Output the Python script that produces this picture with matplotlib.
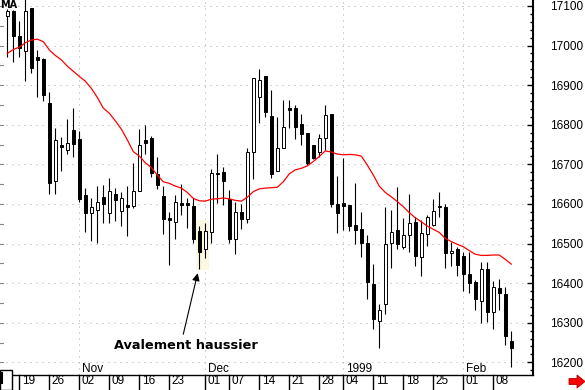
import matplotlib
matplotlib.use('Agg')
import matplotlib.pyplot as plt
import matplotlib.transforms as mtransforms
from matplotlib.patches import Rectangle, Polygon
from matplotlib.lines import Line2D
from matplotlib.ticker import MultipleLocator

# ---- data ----
opens = [17075, 17087, 17024, 16985, 17095, 16970, 16966, 16854, 16659, 16749,
         16737, 16787, 16764, 16622, 16578, 16585, 16617, 16576, 16625, 16581,
         16597, 16596, 16633, 16761, 16767, 16675, 16619, 16564, 16555, 16603,
         16602, 16595, 16532, 16485, 16528, 16679, 16680, 16613, 16511, 16580,
         16561, 16730, 16869, 16922, 16821, 16682, 16742, 16842, 16843, 16802,
         16779, 16749, 16730, 16767, 16826, 16600, 16603, 16597, 16546, 16536,
         16501, 16397, 16305, 16347, 16501, 16534, 16491, 16521, 16555, 16467,
         16523, 16547, 16591, 16592, 16475, 16487, 16469, 16423, 16403, 16356,
         16435, 16326, 16387, 16373, 16254]
highs = [17092, 17090, 17062, 17120, 17095, 16989, 16968, 16883, 16792, 16770,
         16815, 16842, 16785, 16639, 16616, 16645, 16647, 16666, 16640, 16629,
         16646, 16703, 16789, 16799, 16772, 16718, 16645, 16580, 16622, 16650,
         16616, 16614, 16544, 16551, 16688, 16727, 16693, 16635, 16605, 16599,
         16742, 16917, 16941, 16922, 16888, 16819, 16863, 16863, 16850, 16826,
         16779, 16750, 16777, 16849, 16826, 16671, 16716, 16597, 16653, 16580,
         16521, 16448, 16347, 16592, 16584, 16642, 16564, 16625, 16566, 16560,
         16572, 16613, 16629, 16600, 16505, 16491, 16478, 16478, 16408, 16453,
         16453, 16406, 16410, 16391, 16279]
lows = [16970, 16959, 16970, 16911, 16930, 16871, 16861, 16624, 16624, 16684,
        16726, 16719, 16604, 16530, 16507, 16502, 16551, 16553, 16558, 16544,
        16520, 16590, 16633, 16726, 16668, 16637, 16524, 16447, 16512, 16572,
        16540, 16501, 16435, 16463, 16501, 16602, 16597, 16501, 16473, 16536,
        16553, 16662, 16805, 16819, 16665, 16682, 16742, 16791, 16763, 16748,
        16699, 16713, 16719, 16735, 16591, 16526, 16534, 16531, 16499, 16467,
        16361, 16285, 16235, 16323, 16439, 16487, 16485, 16478, 16442, 16419,
        16495, 16544, 16568, 16437, 16442, 16418, 16381, 16376, 16331, 16300,
        16302, 16285, 16332, 16243, 16189]
closes = [17087, 17025, 16995, 17087, 16944, 16964, 16874, 16654, 16761, 16745,
          16753, 16752, 16613, 16576, 16592, 16605, 16600, 16632, 16610, 16614,
          16592, 16632, 16748, 16754, 16677, 16647, 16561, 16559, 16605, 16598,
          16597, 16511, 16478, 16532, 16677, 16676, 16659, 16511, 16580, 16563,
          16730, 16917, 16912, 16831, 16675, 16741, 16794, 16837, 16795, 16777,
          16704, 16716, 16767, 16824, 16599, 16578, 16595, 16545, 16535, 16501,
          16404, 16310, 16333, 16498, 16528, 16499, 16522, 16551, 16469, 16526,
          16566, 16583, 16596, 16477, 16481, 16447, 16424, 16401, 16361, 16435,
          16327, 16390, 16374, 16267, 16235]
ma_values = [16980, 16990, 16996, 17007, 17014, 17016, 17010, 16989, 16975, 16964,
             16948, 16935, 16922, 16910, 16892, 16869, 16842, 16829, 16810, 16789,
             16762, 16732, 16721, 16704, 16692, 16673, 16656, 16652, 16645, 16640,
             16629, 16614, 16608, 16607, 16612, 16613, 16615, 16613, 16609, 16607,
             16617, 16631, 16638, 16640, 16641, 16642, 16656, 16676, 16686, 16690,
             16696, 16707, 16720, 16734, 16731, 16726, 16724, 16725, 16724, 16721,
             16698, 16673, 16645, 16629, 16618, 16606, 16593, 16578, 16565, 16555,
             16544, 16536, 16528, 16513, 16505, 16498, 16492, 16482, 16473, 16470,
             16470, 16471, 16471, 16460, 16448]

day_tick_idx = [2, 7, 12, 17, 22, 27, 33, 37, 42, 47, 52, 56, 61, 66, 71, 76, 81]
day_tick_labels = ['19', '26', '02', '09', '16', '23', '01', '07', '14', '21',
                   '28', '04', '11', '18', '25', '01', '08']
month_idx = [12, 33, 56, 76]
month_labels = ['Nov', 'Dec', '1999', 'Feb']
price_levels = [16200, 16300, 16400, 16500, 16600, 16700, 16800, 16900, 17000, 17100]
annotation_text = 'Avalement haussier'
pattern_idx = [32, 33]

# ---- figure ----
W, H = 585, 390
fig = plt.figure(figsize=(W / 100, H / 100), dpi=100)
ax = fig.add_axes([0, 15 / H, 533.3 / W, 1 - 15 / H])
ax.set_xlim(-1.217, 87.67)
ax.set_ylim(16168, 17115)

lbl_font = dict(family='Liberation Sans', size=8.5)

# grid
for v in price_levels:
    ax.axhline(v, color='#a8a8a8', lw=0.72, ls=(0, (1, 5)), zorder=0)
for i in month_idx:
    ax.axvline(i, color='#a8a8a8', lw=0.72, ls=(0, (1, 5)), zorder=0)

# highlight of pattern
lo = min(lows[j] for j in pattern_idx)
hi = max(highs[j] for j in pattern_idx)
ax.add_patch(Rectangle((pattern_idx[0] - 0.55, lo - 3), len(pattern_idx) + 0.12 - 0.0,
                       hi - lo + 12, facecolor='#fbf9e2', edgecolor='none', zorder=0.5))

# candles
n = len(opens)
xs = list(range(n))
ax.vlines(xs, lows, highs, color='black', lw=0.8, zorder=2)
bottoms = [min(o, c) for o, c in zip(opens, closes)]
heights = [max(abs(c - o), 1.5) for o, c in zip(opens, closes)]
faces = ['white' if c > o else 'black' for o, c in zip(opens, closes)]
ax.bar(xs, heights, bottom=bottoms, width=0.42, color=faces, edgecolor='black',
       linewidth=0.7, zorder=3)

# moving average
ax.plot(xs, ma_values, color='#ff0000', lw=0.9, zorder=4)

# annotation
ax.text(17.78, 16242, annotation_text, fontsize=9.3, fontweight='bold',
        family='DejaVu Sans', ha='left', va='center', zorder=6)
ax.annotate('', xy=(31.73, 16425), xytext=(29.33, 16271),
            arrowprops=dict(arrowstyle='-|>', color='black', lw=0.8,
                            mutation_scale=11, shrinkA=0, shrinkB=0), zorder=6)

# spines / ticks
for s in ['top', 'left']:
    ax.spines[s].set_visible(False)
ax.spines['right'].set_linewidth(1.5)
ax.spines['bottom'].set_linewidth(1.0)
ax.yaxis.tick_right()
ax.set_yticks(price_levels)
ax.set_yticklabels([str(v) for v in price_levels], fontdict=lbl_font)
ax.yaxis.set_minor_locator(MultipleLocator(20))
ax.tick_params(axis='y', which='major', direction='in', length=4, width=1, pad=12)
ax.tick_params(axis='y', which='minor', direction='in', length=2.5, width=1)
ax.set_xticks([])

# left-edge small ticks
ltrans = mtransforms.blended_transform_factory(ax.transAxes, ax.transData)
for v in range(16200, 17101, 50):
    ax.plot([0, 3 / 533.3], [v, v], color='#888888', lw=0.8, transform=ltrans,
            clip_on=False, zorder=1)

# month labels
mtrans = mtransforms.blended_transform_factory(ax.transData, fig.transFigure)
for i, lab in zip(month_idx, month_labels):
    ax.text(i + 0.4, 1 - 369 / H, lab, transform=mtrans, ha='left', va='center',
            **{'family': 'Liberation Sans', 'fontsize': 8.5})

# bottom day ticks and labels
for i, lab in zip(day_tick_idx, day_tick_labels):
    ax.add_line(Line2D([i, i], [0, 15 / H], transform=mtrans, color='black',
                       lw=1.0, clip_on=False))
    ax.text(i + 0.4, 1 - 381.5 / H, lab, transform=mtrans, ha='left', va='center',
            family='Liberation Sans', fontsize=8.5, clip_on=False)

# small box bottom-left
fig.patches.append(Rectangle((0, 0), 11.7 / W, 20 / H, transform=fig.transFigure,
                             facecolor='white', edgecolor='black', lw=1.0))
fig.lines.append(Line2D([1.5 / W, 1.5 / W], [1 - 383 / H, 1 - 373 / H],
                        transform=fig.transFigure, color='black', lw=1.5))

# MA label
fig.text(0.0, 1 - 0.5 / H, 'MA', fontsize=7, fontweight='bold', ha='left', va='top',
         family='DejaVu Sans')

# red arrow bottom right
pts = [(569, 378.5), (577, 378.5), (577, 375), (585, 381.5), (577, 388), (577, 384.5), (569, 384.5)]
fig.patches.append(Polygon([(x / W, 1 - y / H) for x, y in pts], closed=True,
                           transform=fig.transFigure, facecolor='#ff0000',
                           edgecolor='#b00000', lw=0.6))

fig.savefig('out.png', dpi=100)
